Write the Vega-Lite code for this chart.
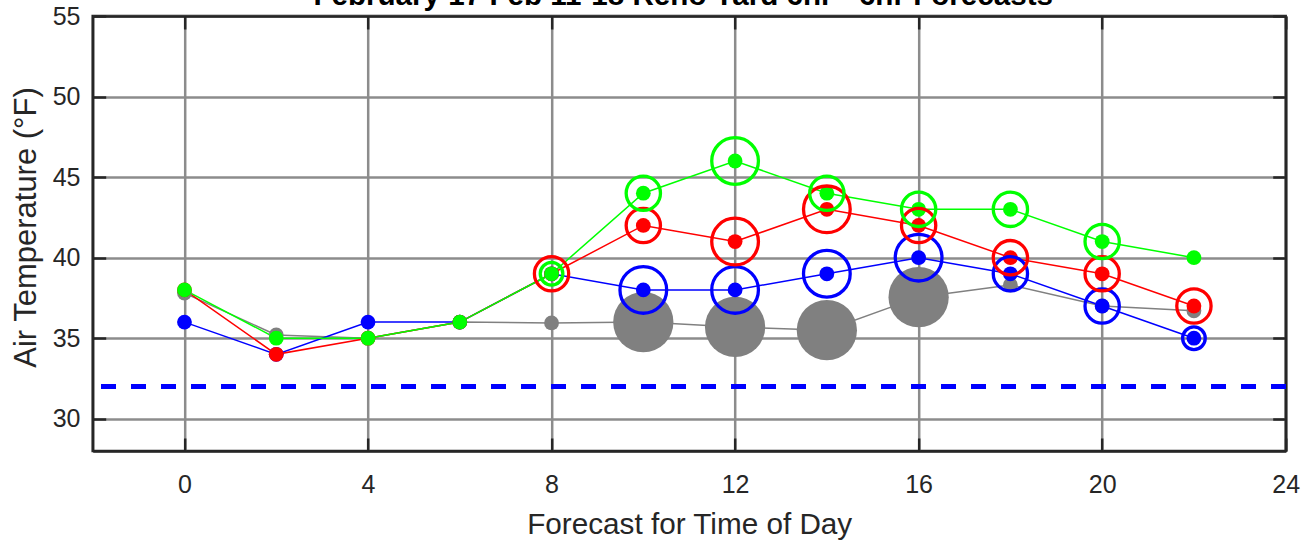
{
  "$schema": "https://vega.github.io/schema/vega-lite/v6.json",
  "width": 1193,
  "height": 435,
  "autosize": {"type": "none"},
  "padding": {"left": 92.7, "top": 16, "right": 25.3, "bottom": 93},
  "background": "white",
  "title": {
    "text": "February 17 Feb 11-18 Reno Yard 6hr - 6hr Forecasts",
    "font": "Liberation Sans",
    "fontSize": 29.6,
    "fontWeight": "bold",
    "color": "#000000",
    "anchor": "middle",
    "baseline": "top",
    "offset": -8,
    "dx": -6
  },
  "config": {
    "view": {"stroke": "#262626", "strokeWidth": 2.5},
    "font": "Liberation Sans"
  },
  "data": {
    "values": [
      {"hour": 0, "temp": 37.8, "series": "gray"},
      {"hour": 2, "temp": 35.2, "series": "gray"},
      {"hour": 4, "temp": 35.0, "series": "gray"},
      {"hour": 6, "temp": 36.0, "series": "gray"},
      {"hour": 8, "temp": 35.95, "series": "gray"},
      {"hour": 10, "temp": 36.0, "series": "gray", "ring": 4},
      {"hour": 12, "temp": 35.7, "series": "gray", "ring": 4},
      {"hour": 14, "temp": 35.5, "series": "gray", "ring": 4},
      {"hour": 16, "temp": 37.55, "series": "gray", "ring": 4},
      {"hour": 18, "temp": 38.3, "series": "gray"},
      {"hour": 20, "temp": 37.0, "series": "gray"},
      {"hour": 22, "temp": 36.7, "series": "gray"},
      {"hour": 0, "temp": 36, "series": "blue"},
      {"hour": 2, "temp": 34, "series": "blue"},
      {"hour": 4, "temp": 36, "series": "blue"},
      {"hour": 6, "temp": 36, "series": "blue"},
      {"hour": 8, "temp": 39, "series": "blue"},
      {"hour": 10, "temp": 38, "series": "blue", "ring": 3},
      {"hour": 12, "temp": 38, "series": "blue", "ring": 3},
      {"hour": 14, "temp": 39, "series": "blue", "ring": 3},
      {"hour": 16, "temp": 40, "series": "blue", "ring": 3},
      {"hour": 18, "temp": 39, "series": "blue", "ring": 2},
      {"hour": 20, "temp": 37, "series": "blue", "ring": 2},
      {"hour": 22, "temp": 35, "series": "blue", "ring": 1},
      {"hour": 0, "temp": 38, "series": "red"},
      {"hour": 2, "temp": 34, "series": "red"},
      {"hour": 4, "temp": 35, "series": "red"},
      {"hour": 6, "temp": 36, "series": "red"},
      {"hour": 8, "temp": 39, "series": "red", "ring": 2},
      {"hour": 10, "temp": 42, "series": "red", "ring": 2},
      {"hour": 12, "temp": 41, "series": "red", "ring": 3},
      {"hour": 14, "temp": 43, "series": "red", "ring": 3},
      {"hour": 16, "temp": 42, "series": "red", "ring": 2},
      {"hour": 18, "temp": 40, "series": "red", "ring": 2},
      {"hour": 20, "temp": 39, "series": "red", "ring": 2},
      {"hour": 22, "temp": 37, "series": "red", "ring": 2},
      {"hour": 0, "temp": 38, "series": "green"},
      {"hour": 2, "temp": 35, "series": "green"},
      {"hour": 4, "temp": 35, "series": "green"},
      {"hour": 6, "temp": 36, "series": "green"},
      {"hour": 8, "temp": 39, "series": "green", "ring": 1},
      {"hour": 10, "temp": 44, "series": "green", "ring": 2},
      {"hour": 12, "temp": 46, "series": "green", "ring": 3},
      {"hour": 14, "temp": 44, "series": "green", "ring": 2},
      {"hour": 16, "temp": 43, "series": "green", "ring": 2},
      {"hour": 18, "temp": 43, "series": "green", "ring": 2},
      {"hour": 20, "temp": 41, "series": "green", "ring": 2},
      {"hour": 22, "temp": 40, "series": "green"}
    ]
  },
  "resolve": {"axis": {"x": "independent", "y": "independent"}},
  "layer": [
    {
      "mark": {"type": "rule", "color": "#0000ff", "strokeWidth": 4, "strokeDash": [14, 16]},
      "encoding": {
        "y": {"datum": 32, "type": "quantitative", "scale": {"domain": [28, 55], "nice": false, "zero": false}, "axis": null}
      }
    },
    {
      "transform": [{"filter": "datum.series === 'gray' && isValid(datum.ring)"}],
      "mark": {"type": "point", "filled": true, "opacity": 1, "strokeWidth": 0},
      "encoding": {
        "x": {"field": "hour", "type": "quantitative", "axis": null},
        "y": {"field": "temp", "type": "quantitative", "axis": null},
        "color": {"field": "series", "type": "nominal", "legend": null},
        "size": {"field": "ring", "type": "ordinal", "legend": null, "scale": {"type": "ordinal", "domain": [1, 2, 3, 4], "range": [511, 1176, 2181, 3632]}}
      }
    },
    {
      "mark": {"type": "line", "strokeWidth": 1.5},
      "encoding": {
        "x": {
          "field": "hour", "type": "quantitative",
          "scale": {"domain": [-2, 24], "nice": false, "zero": false},
          "axis": {
            "orient": "bottom", "values": [0, 4, 8, 12, 16, 20, 24], "format": "d",
            "title": "Forecast for Time of Day",
            "labelFont": "Liberation Sans", "titleFont": "Liberation Sans",
            "labelFontSize": 25, "titleFontSize": 29.7, "titleFontWeight": "normal",
            "labelColor": "#262626", "titleColor": "#262626",
            "grid": true, "gridColor": "#8c8c8c", "gridWidth": 2.5, "gridOpacity": 1,
            "domainColor": "#262626", "domainWidth": 2.5,
            "tickColor": "#262626", "tickWidth": 2.5, "tickSize": -13,
            "labelPadding": 34, "labelFlush": false, "labelOverlap": false, "labelBound": false,
            "titleY": 82.5, "titleBaseline": "alphabetic", "titleAnchor": "middle"
          }
        },
        "y": {
          "field": "temp", "type": "quantitative",
          "axis": {
            "orient": "left", "values": [30, 35, 40, 45, 50, 55], "format": "d",
            "title": "Air Temperature (°F)",
            "labelFont": "Liberation Sans", "titleFont": "Liberation Sans",
            "labelFontSize": 25, "titleFontSize": 31, "titleFontWeight": "normal",
            "labelColor": "#262626", "titleColor": "#262626",
            "grid": true, "gridColor": "#8c8c8c", "gridWidth": 2.5, "gridOpacity": 1,
            "domainColor": "#262626", "domainWidth": 2.5,
            "tickColor": "#262626", "tickWidth": 2.5, "tickSize": -13,
            "labelPadding": 25.7, "labelFlush": false, "labelOverlap": false, "labelBound": false,
            "titleX": -57, "titleY": 211, "titleAngle": 270, "titleBaseline": "alphabetic", "titleAnchor": "middle"
          }
        },
        "color": {"field": "series", "type": "nominal", "legend": null},
        "detail": {"field": "series"}
      }
    },
    {
      "mark": {"type": "point", "filled": true, "opacity": 1, "size": 219, "strokeWidth": 0},
      "encoding": {
        "x": {
          "field": "hour", "type": "quantitative",
          "axis": {
            "orient": "top", "values": [0, 4, 8, 12, 16, 20, 24], "labels": false, "title": null,
            "grid": false, "domainColor": "#262626", "domainWidth": 2.5,
            "tickColor": "#262626", "tickWidth": 2.5, "tickSize": -13
          }
        },
        "y": {
          "field": "temp", "type": "quantitative",
          "axis": {
            "orient": "right", "values": [30, 35, 40, 45, 50, 55], "labels": false, "title": null,
            "grid": false, "domainColor": "#262626", "domainWidth": 2.5,
            "tickColor": "#262626", "tickWidth": 2.5, "tickSize": -13
          }
        },
        "color": {
          "field": "series", "type": "nominal", "legend": null,
          "scale": {"domain": ["gray", "blue", "red", "green"], "range": ["#808080", "#0000ff", "#ff0000", "#00ff00"]}
        }
      }
    },
    {
      "transform": [{"filter": "datum.series !== 'gray' && isValid(datum.ring)"}],
      "mark": {"type": "point", "filled": false, "opacity": 1, "strokeWidth": 3.3},
      "encoding": {
        "x": {"field": "hour", "type": "quantitative", "axis": null},
        "y": {"field": "temp", "type": "quantitative", "axis": null},
        "color": {"field": "series", "type": "nominal", "legend": null},
        "size": {"field": "ring", "type": "ordinal", "legend": null, "scale": {"type": "ordinal", "domain": [1, 2, 3, 4], "range": [511, 1176, 2181, 3632]}}
      }
    }
  ]
}
